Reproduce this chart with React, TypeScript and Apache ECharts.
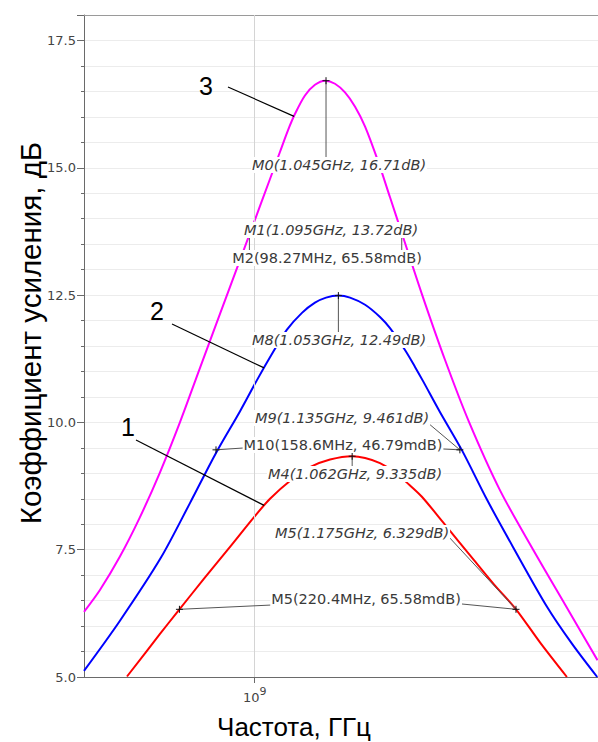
import React, { useEffect, useRef } from "react";
import * as echarts from "echarts";

// Curve 3 (magenta): frequency, GHz / gain, dB
const freq3 = [0.9, 0.9089, 0.9201, 0.9315, 0.9431, 0.955, 0.9668, 0.9788, 0.991, 1.0033, 1.0157, 1.0208, 1.0252, 1.0315, 1.0379, 1.0444, 1.0508, 1.0573, 1.0639, 1.0705, 1.0791, 1.0871, 1.095, 1.1087, 1.1246, 1.1414, 1.1634, 1.1873, 1.211, 1.2356];
const gain3 = [6.28, 6.71, 7.36, 8.13, 9.01, 10.01, 11.07, 12.13, 13.19, 14.25, 15.31, 15.74, 16.06, 16.42, 16.63, 16.71, 16.65, 16.48, 16.2, 15.81, 15.13, 14.42, 13.72, 12.52, 11.23, 10.01, 8.67, 7.51, 6.43, 5.33];
// Curve 2 (blue)
const freq2 = [0.9, 0.9201, 0.9437, 0.9609, 0.9764, 0.991, 1.0014, 1.0114, 1.0201, 1.0296, 1.0379, 1.045, 1.053, 1.0606, 1.0705, 1.0804, 1.0871, 1.0972, 1.104, 1.1095, 1.1212, 1.1365, 1.1542, 1.1729, 1.1977, 1.2164, 1.2354];
const gain2 = [5.12, 6.1, 7.34, 8.42, 9.4, 10.22, 10.83, 11.38, 11.82, 12.15, 12.35, 12.45, 12.49, 12.45, 12.31, 12.07, 11.85, 11.42, 11.09, 10.81, 10.2, 9.45, 8.48, 7.55, 6.38, 5.65, 5.0];
// Curve 1 (red)
const freq1 = [0.9242, 0.9431, 0.9532, 0.9692, 0.9855, 0.9996, 1.0095, 1.0227, 1.0347, 1.0476, 1.062, 1.0705, 1.0804, 1.0898, 1.0999, 1.1087, 1.1232, 1.1442, 1.1591, 1.175, 1.1928, 1.2125];
const gain1 = [5.01, 5.84, 6.27, 6.93, 7.58, 8.14, 8.5, 8.87, 9.12, 9.27, 9.335, 9.3, 9.2, 9.03, 8.78, 8.54, 8.04, 7.32, 6.82, 6.33, 5.67, 5.0];

// Markers
const markerNames = ["M0", "M1", "M8", "M9", "M4", "M5"];
const markerFreqGHz = [1.045, 1.095, 1.053, 1.135, 1.062, 1.175];
const markerGainDb = [16.71, 13.72, 12.49, 9.461, 9.335, 6.329];
const deltaNames = ["M2", "M10", "M5"];
const deltaFreqMHz = [98.27, 158.6, 220.4];
const deltaGainMdB = [65.58, 46.79, 65.58];
const deltaRef = [1, 3, 5]; // index in marker arrays

// Curve callouts
const curveNames = ["1", "2", "3"];
const calloutFreq = [1.0058, 1.0058, 1.0246];
const calloutGain = [8.37, 11.07, 16.01];

const yTicks = [5, 7.5, 10, 12.5, 15, 17.5];
const xTickGHz = [1];

const X_MIN = 0.9;
const X_MAX = 1.236;
const Y_MIN = 5;
const Y_MAX = 18;

export default function App() {
  const ref = useRef<HTMLDivElement>(null);
  useEffect(() => {
    const chart = echarts.init(ref.current as HTMLDivElement, null, { renderer: "svg" });
    const pairs = (f: number[], g: number[]) => f.map((v, i) => [v, g[i]]);
    const axisColor = "#6a6a6a";
    const tickFont = "DejaVu Sans";
    chart.setOption({
      animation: false,
      grid: { left: 84, right: 0, top: 15, bottom: 65 },
      xAxis: [
        {
          type: "log",
          logBase: 10,
          min: X_MIN,
          max: X_MAX,
          axisLine: { show: true, lineStyle: { color: axisColor, width: 1 } },
          axisTick: { show: true, customValues: xTickGHz, length: 6, lineStyle: { color: axisColor } },
          axisLabel: {
            show: true,
            customValues: xTickGHz,
            margin: 9,
            formatter: () => "{b|10}{s|9}",
            rich: {
              b: { fontFamily: tickFont, fontSize: 13, color: "#444", verticalAlign: "bottom", lineHeight: 18 },
              s: { fontFamily: tickFont, fontSize: 11, color: "#444", verticalAlign: "top", lineHeight: 18 },
            },
          },
          splitLine: { show: false },
          minorSplitLine: { show: false },
        },
        {
          type: "log",
          position: "top",
          logBase: 10,
          min: X_MIN,
          max: X_MAX,
          axisLine: { show: true, lineStyle: { color: "#9a9a9a", width: 1 } },
          axisTick: { show: false },
          axisLabel: { show: false },
          splitLine: { show: false },
        },
      ],
      yAxis: [
        {
          type: "value",
          min: Y_MIN,
          max: Y_MAX,
          interval: 2.5,
          axisLine: { show: true, lineStyle: { color: axisColor, width: 1 } },
          axisTick: { show: true, length: 7, lineStyle: { color: axisColor } },
          axisLabel: {
            margin: 8,
            color: "#444",
            fontFamily: tickFont,
            fontSize: 13,
            formatter: (v: number) => (yTicks.indexOf(v) >= 0 ? v.toFixed(1) : ""),
          },
          splitLine: { show: true, lineStyle: { color: "#d4d4d4", width: 1 } },
        },
        {
          type: "value",
          min: Y_MIN,
          max: Y_MAX,
          interval: 0.5,
          position: "left",
          axisLine: { show: false },
          axisTick: { show: true, length: 3, lineStyle: { color: axisColor } },
          axisLabel: { show: false },
          splitLine: { show: true, lineStyle: { color: "#ececec", width: 1 } },
          z: 0,
        },
      ],
      series: [
        {
          type: "line",
          data: [],
          z: 1,
          silent: true,
          markLine: {
            silent: true,
            symbol: "none",
            label: { show: false },
            lineStyle: { color: "#d4d4d4", width: 1, type: "solid" },
            data: xTickGHz.map((v) => ({ xAxis: v })),
          },
        },
        {
          name: "3",
          type: "line",
          data: pairs(freq3, gain3),
          smooth: 0.3,
          showSymbol: false,
          lineStyle: { color: "#ff00ff", width: 2 },
          z: 3,
        },
        {
          name: "2",
          type: "line",
          data: pairs(freq2, gain2),
          smooth: 0.3,
          showSymbol: false,
          lineStyle: { color: "#0000ff", width: 2 },
          z: 3,
        },
        {
          name: "1",
          type: "line",
          data: pairs(freq1, gain1),
          smooth: 0.3,
          showSymbol: false,
          lineStyle: { color: "#ff0000", width: 2 },
          z: 3,
        },
      ],
    });

    const px = (f: number, g: number) =>
      chart.convertToPixel({ xAxisIndex: 0, yAxisIndex: 0 }, [f, g]) as number[];

    const els: any[] = [];
    const lineEl = (x1: number, y1: number, x2: number, y2: number, color = "#555") =>
      els.push({
        type: "line",
        shape: { x1, y1, x2, y2 },
        style: { stroke: color, lineWidth: 1 },
        z: 10,
      });
    const cross = (p: number[]) => {
      lineEl(p[0] - 3.5, p[1], p[0] + 3.5, p[1], "#111");
      lineEl(p[0], p[1] - 3.5, p[0], p[1] + 3.5, "#111");
    };
    const textEl = (text: string, x: number, y: number, italic: boolean) =>
      els.push({
        type: "text",
        x,
        y,
        z: 20,
        style: {
          text,
          font: (italic ? "italic " : "") + '14.5px "DejaVu Sans"',
          fill: "#3a3a3a",
          align: "center",
          verticalAlign: "middle",
          backgroundColor: "#ffffff",
          padding: [1, 1, 0, 1],
        },
      });

    const mp = markerFreqGHz.map((f, i) => px(f, markerGainDb[i]));
    const dp = deltaRef.map((r, i) => px(markerFreqGHz[r] - deltaFreqMHz[i] / 1000, markerGainDb[r]));

    const absLabelPos = [
      [339, 165],
      [331, 230],
      [339, 340],
      [342, 418],
      [355, 474],
      [362, 533],
    ];
    const deltaLabelPos = [
      [327, 258],
      [343, 445],
      [366, 599],
    ];

    lineEl(mp[0][0], mp[0][1], mp[0][0], absLabelPos[0][1]);
    lineEl(mp[2][0], mp[2][1], mp[2][0], absLabelPos[2][1]);
    lineEl(mp[4][0], mp[4][1], mp[4][0], absLabelPos[4][1]);
    lineEl(mp[1][0], mp[1][1], mp[1][0], deltaLabelPos[0][1]);
    lineEl(dp[0][0], dp[0][1], dp[0][0], deltaLabelPos[0][1]);
    lineEl(428, 423, mp[3][0], mp[3][1]);
    lineEl(243, 448, dp[1][0], dp[1][1]);
    lineEl(443, 449, mp[3][0], mp[3][1]);
    lineEl(448, 536, mp[5][0], mp[5][1]);
    lineEl(272, 605, dp[2][0], dp[2][1]);
    lineEl(462, 604, mp[5][0], mp[5][1]);

    mp.forEach((p) => cross(p));
    dp.forEach((p) => cross(p));

    markerNames.forEach((n, i) => {
      textEl(`${n}(${markerFreqGHz[i].toFixed(3)}GHz, ${markerGainDb[i]}dB)`, absLabelPos[i][0], absLabelPos[i][1], true);
    });
    deltaNames.forEach((n, i) => {
      textEl(`${n}(${deltaFreqMHz[i]}MHz, ${deltaGainMdB[i].toFixed(2)}mdB)`, deltaLabelPos[i][0], deltaLabelPos[i][1], false);
    });

    const calloutText = [
      [128, 427],
      [157, 311],
      [206, 86],
    ];
    const calloutStart = [
      [136, 440],
      [172, 324],
      [228, 87],
    ];
    curveNames.forEach((n, i) => {
      const p = px(calloutFreq[i], calloutGain[i]);
      els.push({
        type: "line",
        shape: { x1: calloutStart[i][0], y1: calloutStart[i][1], x2: p[0], y2: p[1] },
        style: { stroke: "#000", lineWidth: 1.2 },
        z: 10,
      });
      els.push({
        type: "text",
        x: calloutText[i][0],
        y: calloutText[i][1],
        z: 20,
        style: {
          text: n,
          font: '25px "Liberation Sans"',
          fill: "#000",
          align: "center",
          verticalAlign: "middle",
        },
      });
    });

    els.push({
      type: "text",
      x: 30,
      y: 333,
      rotation: Math.PI / 2,
      z: 20,
      style: {
        text: "Коэффициент усиления, дБ",
        font: '29.5px "Liberation Sans"',
        fill: "#000",
        align: "center",
        verticalAlign: "middle",
      },
    });
    els.push({
      type: "text",
      x: 294,
      y: 727,
      z: 20,
      style: {
        text: "Частота, ГГц",
        font: '26px "Liberation Sans"',
        fill: "#000",
        align: "center",
        verticalAlign: "middle",
      },
    });

    chart.setOption({ graphic: { elements: els } });
    return () => chart.dispose();
  }, []);
  return <div ref={ref} style={{ position: "absolute", left: 0, top: 0, width: 598, height: 742 }} />;
}
